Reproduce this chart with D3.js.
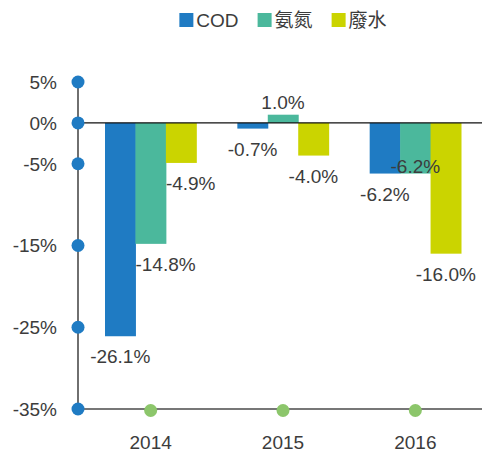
<!DOCTYPE html>
<html lang="zh">
<head>
    <meta charset="UTF-8">
    <title>COD 氨氮 廢水</title>
    <script type="text/javascript" src="https://d3js.org/d3.v7.min.js"></script>
    <style>
        body { margin: 0; background: #fff; }
        text { font-family: "Liberation Sans", Arial, "Noto Sans CJK TC", sans-serif; fill: #3c3c3c; }
    </style>
</head>
<body>
    <svg width="482" height="452"></svg>
    <script>
        // data
        var years = ["2014", "2015", "2016"];
        var seriesNames = ["COD", "氨氮", "廢水"];
        var cod = [-26.1, -0.7, -6.2];
        var nh3 = [-14.8, 1.0, -6.2];
        var water = [-4.9, -4.0, -16.0];
        var yTicks = [5, 0, -5, -15, -25, -35];

        var colors = ["#1f7bc3", "#4bb89c", "#cbd400"];
        var svg = d3.select("svg");

        var axisX = 78, rightX = 482;
        var yScale = d3.scaleLinear().domain([-35, 5]).range([409, 82]);
        var xScale = d3.scaleBand().domain(years).range([105, 461]).paddingInner(0.31).paddingOuter(0);
        var xSub = d3.scaleBand().domain(d3.range(seriesNames.length)).range([0, xScale.bandwidth()]);

        var table = years.map(function(y, i) {
            return { year: y, vals: [cod[i], nh3[i], water[i]] };
        });

        // bars
        var groups = svg.selectAll(".grp").data(table).enter().append("g")
            .attr("class", "grp")
            .attr("transform", function(d) { return "translate(" + xScale(d.year) + ",0)"; });

        groups.selectAll("rect")
            .data(function(d) { return d.vals; })
            .enter().append("rect")
            .attr("x", function(d, i) { return xSub(i); })
            .attr("y", function(d) { return yScale(Math.max(0, d)); })
            .attr("width", xSub.bandwidth() + 0.5)
            .attr("height", function(d) { return Math.abs(yScale(d) - yScale(0)); })
            .attr("fill", function(d, i) { return colors[i]; });

        // value labels
        groups.selectAll(".val")
            .data(function(d) {
                return d.vals.map(function(v, i) { return { v: v, i: i, prev: i > 0 ? d.vals[i - 1] : null }; });
            })
            .enter().append("text")
            .attr("class", "val")
            .style("font-size", "19px")
            .each(function(d) {
                var t = d3.select(this);
                var x = xSub(d.i) + xSub.bandwidth() / 2, anchor = "middle", y;
                if (d.v >= 0) y = yScale(d.v) - 6;
                else y = yScale(d.v) + 27;
                if (d.prev !== null && d.prev < d.v && d.v < 0) {
                    // previous bar is longer, push label to the right
                    x = xSub(d.i); anchor = "start";
                }
                if (d.prev !== null && d.prev === d.v) {
                    y = yScale(d.v) - 1;
                }
                t.attr("x", x).attr("y", y).attr("text-anchor", anchor);
            })
            .text(function(d) { return d.v.toFixed(1) + "%"; });

        // zero line
        svg.append("line")
            .attr("x1", axisX).attr("x2", rightX)
            .attr("y1", yScale(0)).attr("y2", yScale(0))
            .attr("stroke", "#111").attr("stroke-width", 1.2);

        // bottom line
        svg.append("line")
            .attr("x1", axisX).attr("x2", rightX)
            .attr("y1", yScale(-35)).attr("y2", yScale(-35))
            .attr("stroke", "#777").attr("stroke-width", 2);

        // y axis
        svg.append("line")
            .attr("x1", axisX).attr("x2", axisX)
            .attr("y1", yScale(5)).attr("y2", yScale(-35))
            .attr("stroke", "#222").attr("stroke-width", 1.3);

        svg.selectAll(".ydot").data(yTicks).enter().append("circle")
            .attr("cx", axisX).attr("cy", function(d) { return yScale(d); })
            .attr("r", 6.5).attr("fill", "#1f7bc3");

        svg.selectAll(".ylab").data(yTicks).enter().append("text")
            .attr("x", 57).attr("y", function(d) { return yScale(d); })
            .attr("dy", "0.36em")
            .attr("text-anchor", "end")
            .style("font-size", "19px")
            .text(function(d) { return d + "%"; });

        // x categories
        svg.selectAll(".xdot").data(years).enter().append("circle")
            .attr("cx", function(d) { return xScale(d) + xScale.bandwidth() / 2; })
            .attr("cy", yScale(-35) + 1.5)
            .attr("r", 6.5).attr("fill", "#8cc66b");

        svg.selectAll(".xlab").data(years).enter().append("text")
            .attr("x", function(d) { return xScale(d) + xScale.bandwidth() / 2; })
            .attr("y", 449)
            .attr("text-anchor", "middle")
            .style("font-size", "19px")
            .text(function(d) { return d; });

        // legend
        var legend = svg.append("g");
        var lx = 0;
        seriesNames.forEach(function(name, i) {
            legend.append("rect").attr("x", lx).attr("y", 13).attr("width", 14).attr("height", 14)
                .attr("fill", colors[i]);
            var t = legend.append("text").attr("x", lx + 17).attr("y", 27)
                .style("font-size", "19px").text(name);
            lx += 17 + t.node().getComputedTextLength() + 19;
        });
        legend.attr("transform", "translate(" + (283 - (lx - 19) / 2) + ",0)");
    </script>
</body>
</html>
